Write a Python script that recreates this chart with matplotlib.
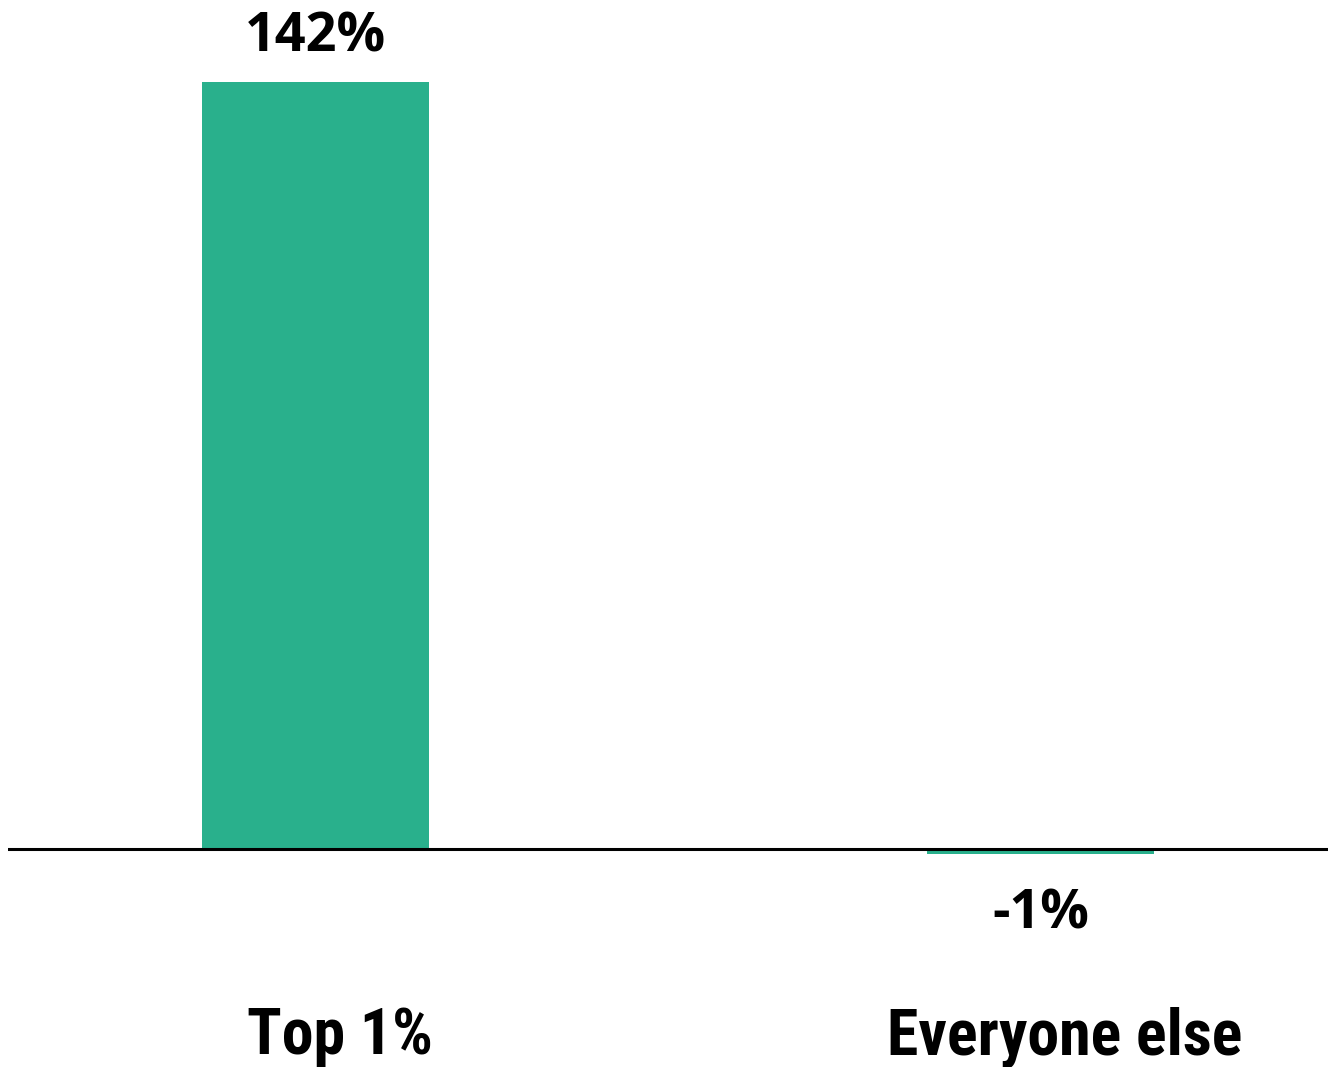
import matplotlib
matplotlib.use('Agg')
from matplotlib import pyplot as plt
from matplotlib import font_manager as fm

groups = ["Top 1%", "Everyone else"]
growth = [142, -1]
labels = ["142%", "-1%"]

BAR_COLOR = "#29B08C"

# pick a narrow face for the category names if one is around
installed = {f.name for f in fm.fontManager.ttflist}
narrow = next((n for n in ["Liberation Sans Narrow", "Roboto Condensed",
                           "Open Sans Condensed", "Noto Sans Condensed"]
               if n in installed), "DejaVu Sans")

fig = plt.figure(figsize=(13.28, 10.67), dpi=100)
ax = fig.add_axes([8 / 1328, 0, 1 - 8 / 1328, 1])

xs = list(range(len(groups)))
ax.bar(xs, growth, width=0.313, color=BAR_COLOR, zorder=2)
ax.axhline(0, color="black", lw=2.2, zorder=3)

ax.set_xlim(-0.4241, 1.3966)
ax.set_ylim(-40.4, 157.2)
ax.axis("off")

# value labels above / below each bar
for x, v, txt in zip(xs, growth, labels):
    y = v + 5.6 if v >= 0 else v - 13.8
    ax.text(x, y, txt, ha="center", va="baseline", fontsize=39,
            fontweight="bold", family=["Open Sans", "DejaVu Sans"], color="black")

# category names along the bottom
for x, name in zip(xs, groups):
    ax.text(x + 0.034, -38.0, name, ha="center", va="baseline", fontsize=46,
            fontweight="bold", fontstretch="condensed",
            family=[narrow, "DejaVu Sans"], color="black")

plt.savefig("out.png", dpi=100)
plt.close(fig)
